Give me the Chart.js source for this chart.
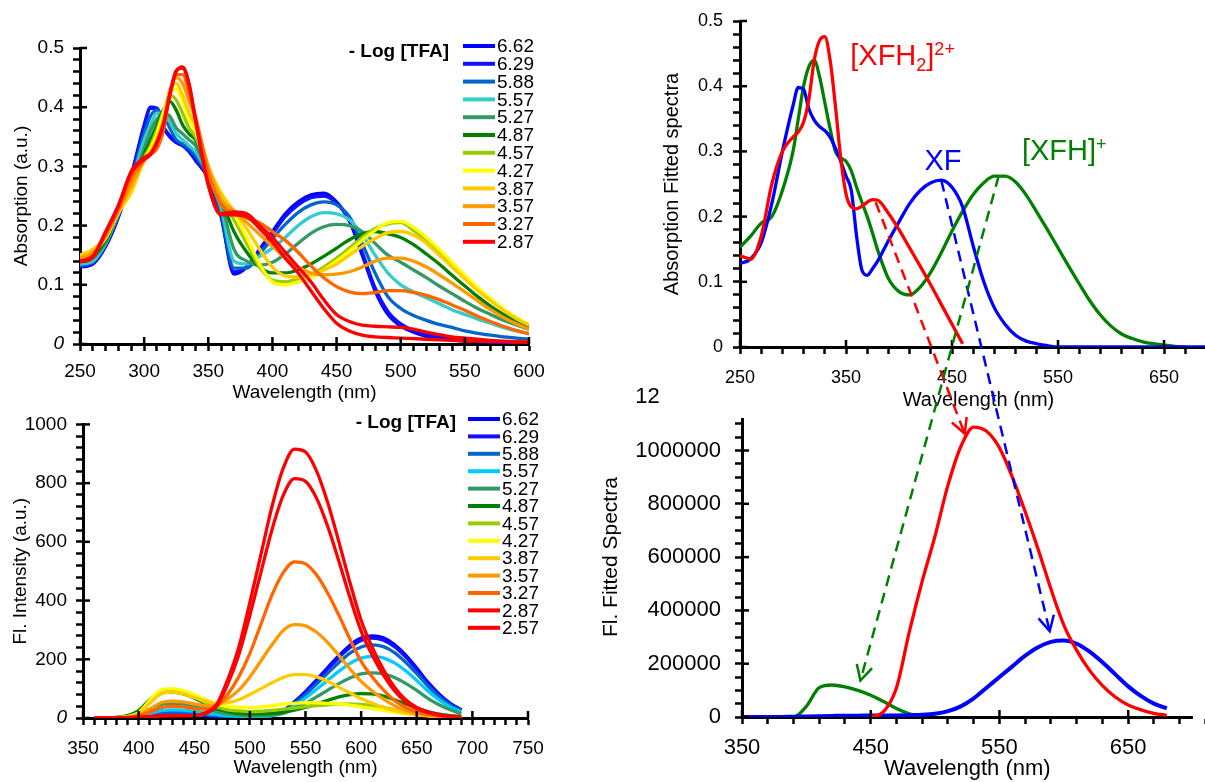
<!DOCTYPE html>
<html>
<head>
<meta charset="utf-8">
<title>TFA titration spectra</title>
<script src="https://cdn.jsdelivr.net/npm/chart.js@4.4.1/dist/chart.umd.min.js"></script>
<style>
  html, body { margin: 0; padding: 0; background: #fff; overflow: hidden; }
  #page { position: relative; width: 1205px; height: 782px; overflow: hidden; background: #fff; }
  canvas { position: absolute; }
</style>
</head>
<body>
<div id="page">
  <canvas id="absAll" width="560" height="404" style="left:0px;top:0px"></canvas>
  <canvas id="flAll" width="560" height="378" style="left:0px;top:404px"></canvas>
  <canvas id="flFit" width="620" height="412" style="left:596px;top:370px"></canvas>
  <canvas id="absFit" width="600" height="418" style="left:660px;top:0px"></canvas>
  <canvas id="arrows" width="1205" height="782" style="left:0px;top:0px"></canvas>
</div>
<script>
// ---- absorption titration (top left) ----
const wlAbs = [250,260,270,280,290,300,305,310,315,320, 325,330,335,340,350,360,370,380,390,400,
               410,420,430,440,450,460,470,480,490,500, 510,520,530,540,550,560,570,580,590,600];
const abs662 = [.130,.135,.165,.215,.285,.370,.400,.398,.365,.350, .340,.335,.325,.310,.280,.215,.118,.130,.160,.190,
                .220,.240,.252,.255,.240,.208,.150,.090,.050,.030, .020,.013,.010,.007,.005,.004,.003,.002,.002,.001];
const abs629 = [.132,.136,.165,.215,.283,.366,.398,.398,.368,.352, .342,.336,.326,.312,.280,.218,.122,.130,.158,.186,
                .215,.235,.247,.250,.238,.208,.155,.095,.055,.034, .023,.016,.012,.009,.007,.005,.004,.003,.002,.002];
const abs588 = [.132,.138,.168,.218,.278,.355,.385,.395,.385,.365, .345,.338,.330,.318,.282,.222,.128,.128,.152,.178,
                .202,.222,.235,.240,.235,.215,.170,.120,.080,.060, .048,.040,.033,.028,.022,.018,.015,.012,.010,.008];
const abs557 = [.135,.140,.170,.220,.272,.345,.370,.390,.390,.375, .355,.345,.335,.325,.285,.230,.140,.135,.148,.162,
                .180,.200,.215,.222,.220,.210,.185,.150,.120,.100, .088,.078,.068,.058,.050,.042,.035,.028,.022,.018];
const abs527 = [.140,.145,.172,.222,.268,.330,.360,.380,.390,.385, .365,.355,.345,.335,.288,.240,.160,.140,.133,.138,
                .152,.170,.187,.198,.202,.200,.190,.170,.150,.138, .125,.112,.098,.085,.072,.060,.050,.040,.032,.025];
const abs487 = [.145,.150,.175,.222,.262,.320,.345,.370,.395,.410, .395,.370,.355,.345,.292,.245,.190,.155,.130,.120,
                .120,.125,.135,.148,.162,.176,.186,.190,.186,.180, .168,.152,.135,.116,.098,.080,.064,.050,.038,.028];
const abs457 = [.150,.155,.178,.222,.260,.315,.335,.362,.393,.420, .412,.390,.365,.350,.295,.250,.210,.170,.130,.108,
                .105,.110,.118,.130,.145,.162,.180,.195,.203,.205, .192,.175,.155,.133,.112,.092,.074,.058,.044,.032];
const abs427 = [.150,.160,.180,.222,.256,.310,.330,.355,.390,.425, .430,.410,.380,.360,.298,.255,.220,.180,.135,.105,
                .100,.105,.112,.125,.140,.157,.175,.192,.205,.207, .197,.180,.160,.138,.116,.095,.077,.060,.045,.033];
const abs387 = [.150,.160,.180,.222,.258,.310,.325,.345,.380,.430, .440,.420,.390,.370,.300,.255,.225,.195,.160,.130,
                .115,.113,.118,.125,.135,.150,.165,.178,.188,.190, .184,.170,.150,.130,.110,.090,.073,.057,.043,.032];
const abs357 = [.145,.155,.182,.225,.268,.310,.320,.335,.370,.425, .450,.440,.410,.380,.300,.245,.225,.205,.185,.165,
                .145,.130,.120,.117,.118,.122,.130,.140,.145,.145, .140,.130,.117,.103,.088,.073,.058,.045,.034,.025];
const abs327 = [.140,.150,.185,.228,.280,.310,.320,.330,.360,.420, .455,.455,.425,.385,.290,.235,.222,.213,.205,.190,
                .175,.155,.132,.112,.097,.088,.085,.087,.090,.090, .087,.082,.075,.066,.057,.047,.038,.030,.023,.017];
const abs287 = [.140,.148,.190,.235,.290,.312,.320,.340,.370,.420, .460,.468,.440,.380,.270,.220,.223,.220,.200,.180,
                .155,.130,.105,.075,.050,.038,.032,.030,.029,.028, .025,.020,.016,.012,.010,.008,.006,.005,.004,.003];
const abs257 = [.138,.146,.188,.233,.292,.315,.322,.342,.372,.422, .462,.466,.438,.378,.268,.218,.218,.215,.195,.172,
                .145,.120,.090,.060,.035,.022,.015,.012,.011,.010, .009,.008,.007,.006,.005,.005,.004,.004,.003,.003];
const absLabels = ['6.62','6.29','5.88','5.57','5.27','4.87','4.57','4.27','3.87','3.57','3.27','2.87','2.57'];
const absColors = ['#0000ff','#1010ff','#0066cc','#33cccc','#339966','#008000','#99cc00','#ffff00','#ffcc00','#ff9900','#ff6600','#ff0000','#ff0000'];
const absSeries = [abs662, abs629, abs588, abs557, abs527, abs487, abs457, abs427, abs387, abs357, abs327, abs287, abs257];

// ---- fluorescence titration (bottom left) ----
const wlFl = [360,370,380,390,400,410,420,430,440,450, 460,470,480,490,500,510,520,530,540,550,
              560,570,580,590,600,610,620,630,640,650, 660,670,680,690];
const fl662 = [0,0,0,2,5,10,15,18,18,15, 10,6,3,2,2,4,10,25,55,90, 130,172,212,248,272,280,273,250,214,170, 122,82,50,28];
const fl629 = [0,0,0,2,5,9,14,16,16,14, 9,5,3,2,2,4,10,24,53,87, 126,167,206,240,264,272,265,243,208,165, 118,80,49,27];
const fl588 = [0,0,0,2,5,12,18,20,19,16, 12,8,5,4,3,4,9,22,49,80, 116,153,189,221,242,249,243,223,190,151, 109,73,45,25];
const fl557 = [0,0,0,2,6,16,25,28,27,23, 17,12,8,6,5,5,8,19,41,68, 98,129,159,186,204,210,205,188,161,128, 92,62,38,21];
const fl527 = [0,0,0,3,10,30,46,50,48,42, 32,22,14,10,8,8,10,16,32,50, 72,95,117,136,150,154,150,138,118,94, 67,45,28,15];
const fl487 = [0,0,2,8,25,62,85,88,82,68, 48,32,22,16,14,14,16,20,27,36, 48,60,72,80,83,82,75,62,48,34, 22,13,8,5];
const fl457 = [0,0,1,5,18,58,90,95,88,72, 52,38,28,24,22,23,26,30,34,38, 42,45,47,48,46,42,36,28,21,15, 10,6,4,2];
const fl427 = [0,0,1,5,18,60,95,100,93,80, 62,48,40,37,36,38,42,47,50,52, 52,50,48,44,38,32,26,20,15,11, 8,5,3,2];
const fl387 = [0,0,1,4,15,50,82,88,82,70, 58,50,52,62,80,100,120,138,148,148, 140,125,105,85,66,50,36,25,17,11, 7,4,3,2];
const fl357 = [0,0,1,3,10,30,52,57,55,48, 42,45,65,95,140,195,250,298,318,314, 292,257,213,167,125,92,65,42,26,16, 9,5,3,2];
const fl327 = [0,0,0,2,8,20,35,40,38,32, 30,40,80,140,220,320,420,495,532,525, 487,425,350,268,193,140,96,60,36,21, 12,7,4,2];
const fl287 = [0,0,0,1,3,5,7,8,8,8, 15,40,115,215,350,497,643,758,815,806, 748,652,534,410,296,214,147,93,55,32, 18,10,5,3];
const fl257 = [0,0,0,1,3,5,7,8,8,8, 18,45,130,240,394,558,722,851,916,906, 841,733,600,461,333,240,165,105,62,36, 20,11,6,3];
const flLabels = ['6.62','6.29','5.88','5.57','5.27','4.87','4.57','4.27','3.87','3.57','3.27','2.87','2.57'];
const flColors = ['#0000ff','#1010ff','#0066cc','#00ccff','#339966','#008000','#99cc00','#ffff00','#ffcc00','#ff9900','#ff6600','#ff0000','#ff0000'];
const flSeries = [fl662, fl629, fl588, fl557, fl527, fl487, fl457, fl427, fl387, fl357, fl327, fl287, fl257];

// ---- fitted absorption spectra (top right) ----
const wlFitAbs = [250,260,270,280,290,300,305,310,315,320, 325,330,335,340,345,350,355,360,365,370,
                  375,380,390,400,410,420,430,440,450,460, 470,480,490,500,510,520,530,540,550,560,
                  570,580,590,600,610,620,630,640,650,660, 670,680,690,700];
const fitAbsRed = [.140,.135,.170,.250,.300,.322,.330,.345,.380,.440, .470,.476,.440,.370,.290,.235,.215,.212,.216,.222,
                   .226,.225,.205,.180,.152,.124,.095,.065,.035,.005];
const fitAbsBlue = [.128,.135,.160,.220,.300,.370,.398,.395,.365,.348, .338,.332,.322,.305,.285,.262,.240,.170,.118,.110,
                    .120,.132,.163,.192,.220,.240,.252,.256,.245,.215, .155,.100,.060,.035,.018,.009,.005,.002,0,0,
                    0,0,0,0,0,0,0,0,0,0, 0,0,0,0];
const fitAbsGreen = [.153,.170,.190,.200,.240,.300,.350,.400,.430,.440, .415,.375,.335,.300,.290,.285,.270,.245,.222,.200,
                     .175,.148,.105,.085,.080,.092,.115,.145,.178,.208, .234,.252,.262,.262,.253,.233,.207,.180,.152,.124,
                     .097,.071,.049,.032,.020,.013,.008,.005,.003,.001, 0];

// ---- fitted fluorescence spectra (bottom right) ----
const wlFitFl = [350,360,370,380,390,400,410,420,430,440, 450,460,470,480,490,500,510,520,530,540,
                 550,560,570,580,590,600,610,620,630,640, 650,660,670,680];
const fitFlRed = [null,null,null,null,null,null,null,null,null,null,
                  0,20000,110000,320000,510000,680000,870000,1015000,1088000,1072000,
                  1010000,900000,770000,630000,480000,345000,250000,175000,118000,75000,
                  45000,27000,14000,6000];
const fitFlBlue = [0,0,0,0,1000,2000,3000,4000,5000,5000, 6000,6000,6000,7000,8000,12000,22000,40000,70000,110000,
                   150000,190000,230000,262000,282000,287000,275000,245000,205000,160000, 115000,78000,50000,32000];
const fitFlGreen = [0,0,0,0,0,40000,110000,120000,113000,100000, 82000,58000,32000,12000,0];

// dashed arrows: from absorption band (top right) to emission band (bottom right)
const arrowFromX = [378, 440, 494];
const arrowFromY = [0.222, 0.255, 0.262];
const arrowToX = [523, 589, 442];
const arrowToY = [1063000, 322000, 137000];
const arrowColors = ['#ff0000', '#0000ff', '#008000'];

const FONT = 'Arial, "Liberation Sans", sans-serif';
Chart.defaults.font.family = FONT;
Chart.defaults.color = '#000';
Chart.defaults.animation = false;

function pts(xs, ys) {
  return ys.map((v, i) => ({ x: xs[i], y: v }));
}

// ticks every `step`, labelled every `major`
function fixedTicks(step, major) {
  return function (scale) {
    const out = [];
    const n = Math.round((scale.max - scale.min) / step);
    for (let i = 0; i <= n; i++) {
      const v = +(scale.min + i * step).toFixed(6);
      const k = (v - scale.min) / major;
      out.push({ value: v, big: Math.abs(k - Math.round(k)) < 1e-6 });
    }
    scale.ticks = out;
  };
}

function axis(o) {
  return {
    type: 'linear',
    min: o.min,
    max: o.max,
    afterBuildTicks: fixedTicks(o.step, o.major),
    afterFit: s => { if (s.isHorizontal()) s.height = o.size; else s.width = o.size; },
    border: { color: '#000', width: 3 },
    grid: { drawOnChartArea: false, drawTicks: true, tickLength: 7, tickColor: '#000', tickWidth: 2.5 },
    ticks: {
      autoSkip: false, maxRotation: 0, minRotation: 0, padding: o.pad, color: '#000',
      font: c => ({ family: FONT, size: o.font, style: (o.italicZero && c.tick && c.tick.value === 0) ? 'italic' : 'normal' }),
      callback: (v, i, t) => t[i].big ? (o.fmt ? o.fmt(v) : String(v)) : ''
    },
    title: { display: true, text: o.title, color: '#000', font: { family: FONT, size: o.titleFont }, padding: o.tpad }
  };
}

const oneDec = v => v === 0 ? '0' : v.toFixed(1);

// major ticks cross the axis: add the inner half
const crossTicks = {
  id: 'crossTicks',
  afterDraw(chart) {
    const { ctx, chartArea } = chart;
    ctx.save();
    ctx.strokeStyle = '#000';
    ctx.lineWidth = 2.5;
    const sx = chart.scales.x, sy = chart.scales.y;
    sx.ticks.forEach(t => {
      if (!t.big) return;
      const p = sx.getPixelForValue(t.value);
      ctx.beginPath(); ctx.moveTo(p, chartArea.bottom); ctx.lineTo(p, chartArea.bottom - 7); ctx.stroke();
    });
    sy.ticks.forEach(t => {
      if (!t.big) return;
      const p = sy.getPixelForValue(t.value);
      ctx.beginPath(); ctx.moveTo(chartArea.left, p); ctx.lineTo(chartArea.left + 7, p); ctx.stroke();
    });
    ctx.restore();
  }
};

const whiteBg = {
  id: 'whiteBg',
  beforeDraw(chart) {
    const ctx = chart.ctx;
    ctx.save();
    ctx.fillStyle = '#fff';
    ctx.fillRect(0, 0, chart.width, chart.height);
    ctx.restore();
  }
};

// "- Log [TFA]" legend column
const tfaLegend = {
  id: 'tfaLegend',
  afterDatasetsDraw(chart, args, opts) {
    const ctx = chart.ctx;
    ctx.save();
    ctx.fillStyle = '#000';
    ctx.textBaseline = 'middle';
    ctx.font = 'bold 19px ' + FONT;
    ctx.textAlign = 'right';
    ctx.fillText('- Log [TFA]', opts.titleX, opts.titleY);
    ctx.font = '19px ' + FONT;
    ctx.textAlign = 'left';
    let y = opts.y;
    chart.data.datasets.forEach(ds => {
      if (ds.hideInLegend) return;
      ctx.strokeStyle = ds.borderColor;
      ctx.lineWidth = 4;
      ctx.beginPath(); ctx.moveTo(opts.x, y); ctx.lineTo(opts.x + 32, y); ctx.stroke();
      ctx.fillText(ds.label, opts.x + 34, y + 1);
      y += opts.gap;
    });
    ctx.restore();
  }
};

const speciesLabels = [
  { parts: [['[XFH', 0], ['2', 1], [']', 0], ['2+', -1]], x: 354, y: 0.432, color: '#ff0000' },
  { parts: [['XF', 0]], x: 424, y: 0.271, color: '#0000ff' },
  { parts: [['[XFH]', 0], ['+', -1]], x: 516, y: 0.287, color: '#008000' }
];
const speciesPlugin = {
  id: 'species',
  afterDatasetsDraw(chart) {
    const { ctx, scales } = chart;
    speciesLabels.forEach(lab => {
      let x = scales.x.getPixelForValue(lab.x);
      const y = scales.y.getPixelForValue(lab.y);
      ctx.save();
      ctx.fillStyle = lab.color;
      ctx.textAlign = 'left';
      ctx.textBaseline = 'alphabetic';
      lab.parts.forEach(([txt, shift]) => {
        ctx.font = (shift === 0 ? 29 : 18) + 'px ' + FONT;
        ctx.fillText(txt, x, y + (shift > 0 ? 6 : shift < 0 ? -10 : 0));
        x += ctx.measureText(txt).width;
      });
      ctx.restore();
    });
  }
};

function lineSets(labels, colors, series, xs, hideLast) {
  return labels.map((lab, i) => ({
    label: lab,
    data: pts(xs, series[i]),
    borderColor: colors[i],
    backgroundColor: colors[i],
    borderWidth: 3.3,
    pointRadius: 0,
    cubicInterpolationMode: 'monotone',
    order: labels.length - i,
    hideInLegend: hideLast && i === labels.length - 1
  }));
}

// top left: absorption titration
const absChart = new Chart(document.getElementById('absAll'), {
  type: 'line',
  data: { datasets: lineSets(absLabels, absColors, absSeries, wlAbs, true) },
  options: {
    responsive: false,
    layout: { padding: { left: 0, right: 31, top: 48, bottom: 0 } },
    plugins: {
      legend: { display: false }, tooltip: { enabled: false },
      tfaLegend: { titleX: 449, titleY: 52, x: 463, y: 46, gap: 17.8 }
    },
    scales: {
      x: axis({ min: 250, max: 600, step: 10, major: 50, size: 60, pad: 9, font: 19, title: 'Wavelength (nm)', titleFont: 19, tpad: { top: 0, bottom: 0 } }),
      y: axis({ min: 0, max: 0.5, step: 0.02, major: 0.1, size: 80, pad: 9, font: 19, fmt: oneDec, italicZero: true, title: 'Absorption (a.u.)', titleFont: 19, tpad: { top: 10, bottom: 0 } })
    }
  },
  plugins: [whiteBg, tfaLegend, crossTicks]
});

// bottom left: fluorescence titration
const flChart = new Chart(document.getElementById('flAll'), {
  type: 'line',
  data: { datasets: lineSets(flLabels, flColors, flSeries, wlFl, false) },
  options: {
    responsive: false,
    layout: { padding: { left: 0, right: 32, top: 18, bottom: 0 } },
    plugins: {
      legend: { display: false }, tooltip: { enabled: false },
      tfaLegend: { titleX: 456, titleY: 19, x: 468, y: 15, gap: 17.4 }
    },
    scales: {
      x: axis({ min: 350, max: 750, step: 10, major: 50, size: 64, pad: 12, font: 19, title: 'Wavelength (nm)', titleFont: 19, tpad: { top: 0, bottom: 3 } }),
      y: axis({ min: 0, max: 1000, step: 40, major: 200, size: 83, pad: 9, font: 19, italicZero: true, title: 'Fl. Intensity (a.u.)', titleFont: 19, tpad: { top: 9, bottom: 0 } })
    }
  },
  plugins: [whiteBg, tfaLegend, crossTicks]
});

// bottom right: fitted fluorescence
const flFitChart = new Chart(document.getElementById('flFit'), {
  type: 'line',
  data: {
    datasets: [
      { label: '[XFH2]2+', data: pts(wlFitFl, fitFlRed), borderColor: '#ff0000', borderWidth: 3.3, pointRadius: 0, cubicInterpolationMode: 'monotone' },
      { label: 'XF', data: pts(wlFitFl, fitFlBlue), borderColor: '#0000ff', borderWidth: 4, pointRadius: 0, cubicInterpolationMode: 'monotone' },
      { label: '[XFH]+', data: pts(wlFitFl, fitFlGreen), borderColor: '#008000', borderWidth: 3.3, pointRadius: 0, cubicInterpolationMode: 'monotone' }
    ]
  },
  options: {
    responsive: false,
    layout: { padding: { left: 0, right: 15.5, top: 23, bottom: 0 } },
    plugins: { legend: { display: false }, tooltip: { enabled: false } },
    scales: {
      x: axis({ min: 350, max: 700, step: 20, major: 100, size: 65, pad: 11, font: 22, title: 'Wavelength (nm)', titleFont: 22, tpad: { top: 0, bottom: 0 } }),
      y: axis({ min: 0, max: 1200000, step: 50000, major: 200000, size: 146, pad: 14, font: 22, title: 'Fl. Fitted Spectra', titleFont: 21, tpad: { top: 3, bottom: 0 } })
    }
  },
  plugins: [whiteBg, crossTicks]
});

// top right: fitted absorption (drawn over the bottom-right panel)
const absFitChart = new Chart(document.getElementById('absFit'), {
  type: 'line',
  data: {
    datasets: [
      { label: '[XFH2]2+', data: pts(wlFitAbs, fitAbsRed), borderColor: '#ff0000', borderWidth: 3.3, pointRadius: 0, cubicInterpolationMode: 'monotone' },
      { label: 'XF', data: pts(wlFitAbs, fitAbsBlue), borderColor: '#0000ff', borderWidth: 3.3, pointRadius: 0, cubicInterpolationMode: 'monotone' },
      { label: '[XFH]+', data: pts(wlFitAbs, fitAbsGreen), borderColor: '#008000', borderWidth: 3.3, pointRadius: 0, cubicInterpolationMode: 'monotone' }
    ]
  },
  options: {
    responsive: false,
    layout: { padding: { left: 0, right: 43, top: 21, bottom: 0 } },
    plugins: { legend: { display: false }, tooltip: { enabled: false } },
    scales: {
      x: axis({ min: 250, max: 700, step: 20, major: 100, size: 71, pad: 13, font: 18, title: 'Wavelength (nm)', titleFont: 20, tpad: { top: 0, bottom: 6 } }),
      y: axis({ min: 0, max: 0.5, step: 0.02, major: 0.1, size: 80, pad: 10, font: 18, fmt: oneDec, title: 'Absorption Fitted spectra', titleFont: 20, tpad: { top: 0, bottom: 0 } })
    }
  },
  plugins: [whiteBg, speciesPlugin, crossTicks]
});

// dashed arrows across both right-hand panels
function drawArrow(ctx, x1, y1, x2, y2, color) {
  ctx.save();
  ctx.strokeStyle = color;
  ctx.lineWidth = 2.5;
  ctx.setLineDash([11, 7]);
  ctx.beginPath(); ctx.moveTo(x1, y1); ctx.lineTo(x2, y2); ctx.stroke();
  ctx.setLineDash([]);
  const a = Math.atan2(y2 - y1, x2 - x1), L = 17, w = Math.PI / 6.5;
  ctx.beginPath();
  ctx.moveTo(x2 - L * Math.cos(a - w), y2 - L * Math.sin(a - w));
  ctx.lineTo(x2, y2);
  ctx.lineTo(x2 - L * Math.cos(a + w), y2 - L * Math.sin(a + w));
  ctx.stroke();
  ctx.restore();
}

(function () {
  const top = document.getElementById('absFit');
  const bot = document.getElementById('flFit');
  const ctx = document.getElementById('arrows').getContext('2d');
  arrowColors.forEach((c, i) => {
    const x1 = top.offsetLeft + absFitChart.scales.x.getPixelForValue(arrowFromX[i]);
    const y1 = top.offsetTop + absFitChart.scales.y.getPixelForValue(arrowFromY[i]);
    const x2 = bot.offsetLeft + flFitChart.scales.x.getPixelForValue(arrowToX[i]);
    const y2 = bot.offsetTop + flFitChart.scales.y.getPixelForValue(arrowToY[i]);
    drawArrow(ctx, x1, y1, x2, y2, c);
  });
})();
</script>
</body>
</html>
